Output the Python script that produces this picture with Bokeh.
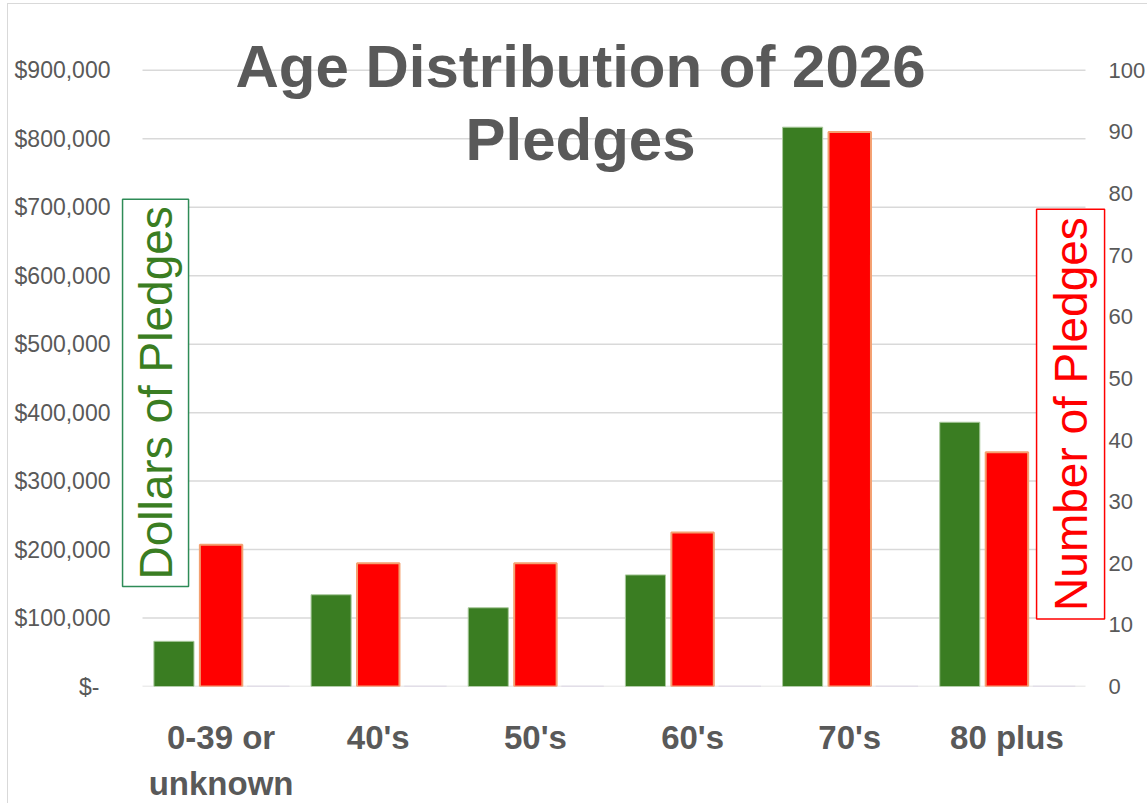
import math
from bokeh.plotting import figure
from bokeh.models import Range1d, LinearAxis, FixedTicker, Label, ColumnDataSource
from bokeh.embed import file_html
from bokeh.resources import INLINE

# ---- data ----
categories = ["0-39 or unknown", "40's", "50's", "60's", "70's", "80 plus"]
label_line1 = ["0-39 or", "40's", "50's", "60's", "70's", "80 plus"]
label_line2 = ["unknown", "", "", "", "", ""]
dollars = [66000, 134000, 115000, 163000, 817000, 386000]
counts = [23, 20, 20, 25, 90, 38]
other = [0, 0, 0, 0, 0, 0]

dollar_ticks = [0, 100000, 200000, 300000, 400000, 500000, 600000, 700000, 800000, 900000]
dollar_tick_labels = ["$-\u00a0\u2009", "$100,000", "$200,000", "$300,000", "$400,000",
                      "$500,000", "$600,000", "$700,000", "$800,000", "$900,000"]
count_ticks = [0, 10, 20, 30, 40, 50, 60, 70, 80, 90, 100]

title_lines = ["Age Distribution of 2026", "Pledges"]
left_title = "Dollars of Pledges"
right_title = "Number of Pledges"

GREY = "#595959"
GREEN = "#3a7d22"
RED = "#ff0000"

n = len(categories)
centers = [i + 0.5 for i in range(n)]

src = ColumnDataSource(dict(
    xg=[c - 0.30 for c in centers], xr=centers, xo=[c + 0.30 for c in centers],
    dollars=dollars, counts=counts, other=other))

# frame extends a little beyond the category band so that the boxed
# axis titles and the title are not clipped
EXT = 668 / 618
p = figure(x_range=Range1d(-0.14, 6.1336), y_range=Range1d(0, 900000 * EXT),
           x_axis_type=None,
           width=1140, height=800, output_backend="svg", toolbar_location=None,
           min_border_left=112, min_border_right=42, min_border_top=16, min_border_bottom=116)
p.styles = {"margin-left": "7px", "margin-top": "3px",
            "border-left": "1px solid #d9d9d9", "border-top": "1px solid #d9d9d9"}
p.extra_y_ranges = {"count": Range1d(0, 100 * EXT)}
p.outline_line_color = None
p.grid.visible = False

# horizontal grid lines across the category band
p.segment(x0=[0] * len(dollar_ticks), x1=[n] * len(dollar_ticks), y0=dollar_ticks, y1=dollar_ticks,
          line_color="#d9d9d9", line_width=1.5, level="underlay")

# bars
p.vbar(x="xg", top="dollars", width=0.255, source=src,
       fill_color=GREEN, line_color="#a9c99c", line_width=1)
p.vbar(x="xr", top="counts", width=0.27, source=src,
       fill_color=RED, line_color="#f4a070", line_width=2, y_range_name="count")
p.vbar(x="xo", top="other", width=0.27, source=src,
       fill_color="#d8d0e4", line_color="#d8d0e4", line_width=1.5, y_range_name="count")

# left axis
yax = p.yaxis[0]
yax.ticker = FixedTicker(ticks=dollar_ticks)
yax.major_label_overrides = {t: l for t, l in zip(dollar_ticks, dollar_tick_labels)}
yax.axis_line_color = None
yax.major_tick_line_color = None
yax.minor_tick_line_color = None
yax.major_label_text_color = GREY
yax.major_label_text_font = "Liberation Sans"
yax.major_label_text_font_size = "23px"
yax.major_label_standoff = 4

# right axis
rax = LinearAxis(y_range_name="count", ticker=FixedTicker(ticks=count_ticks))
rax.axis_line_color = None
rax.major_tick_line_color = None
rax.minor_tick_line_color = None
rax.major_label_text_color = GREY
rax.major_label_text_font = "Liberation Sans"
rax.major_label_text_font_size = "22px"
rax.major_label_standoff = -4
p.add_layout(rax, "right")

# x axes (two lines of category labels)
for lines, standoff in [(label_line1, 26), (label_line2, 0)]:
    ax = LinearAxis(ticker=FixedTicker(ticks=centers))
    ax.major_label_overrides = {c: l for c, l in zip(centers, lines)}
    ax.axis_line_color = None
    ax.major_tick_line_color = None
    ax.minor_tick_line_color = None
    ax.major_label_text_color = GREY
    ax.major_label_text_font = "Liberation Sans"
    ax.major_label_text_font_style = "bold"
    ax.major_label_text_font_size = "33px"
    ax.major_label_standoff = standoff
    p.add_layout(ax, "below")

# title (two lines)
for txt, yv in zip(title_lines, [906000, 799000]):
    p.add_layout(Label(x=2.787, y=yv, text=txt, text_align="center", text_baseline="middle",
                       text_font="Liberation Sans", text_font_style="bold", text_font_size="60px",
                       text_color=GREY))

# axis titles in boxes
p.add_layout(Label(x=0.083, y=429000, text=left_title, angle=math.pi / 2, angle_units="rad",
                   text_align="center", text_baseline="middle",
                   text_font="Liberation Sans", text_font_size="46px", text_color=GREEN,
                   border_line_color="#2e8b57", border_line_width=1.5, padding=7,
                   background_fill_color="white"))
p.add_layout(Label(x=5.905, y=398000, text=right_title, angle=math.pi / 2, angle_units="rad",
                   text_align="center", text_baseline="middle",
                   text_font="Liberation Sans", text_font_size="46px", text_color=RED,
                   border_line_color=RED, border_line_width=1.5, padding=8,
                   background_fill_color="white"))

open("out.html", "w").write(file_html(p, INLINE))
